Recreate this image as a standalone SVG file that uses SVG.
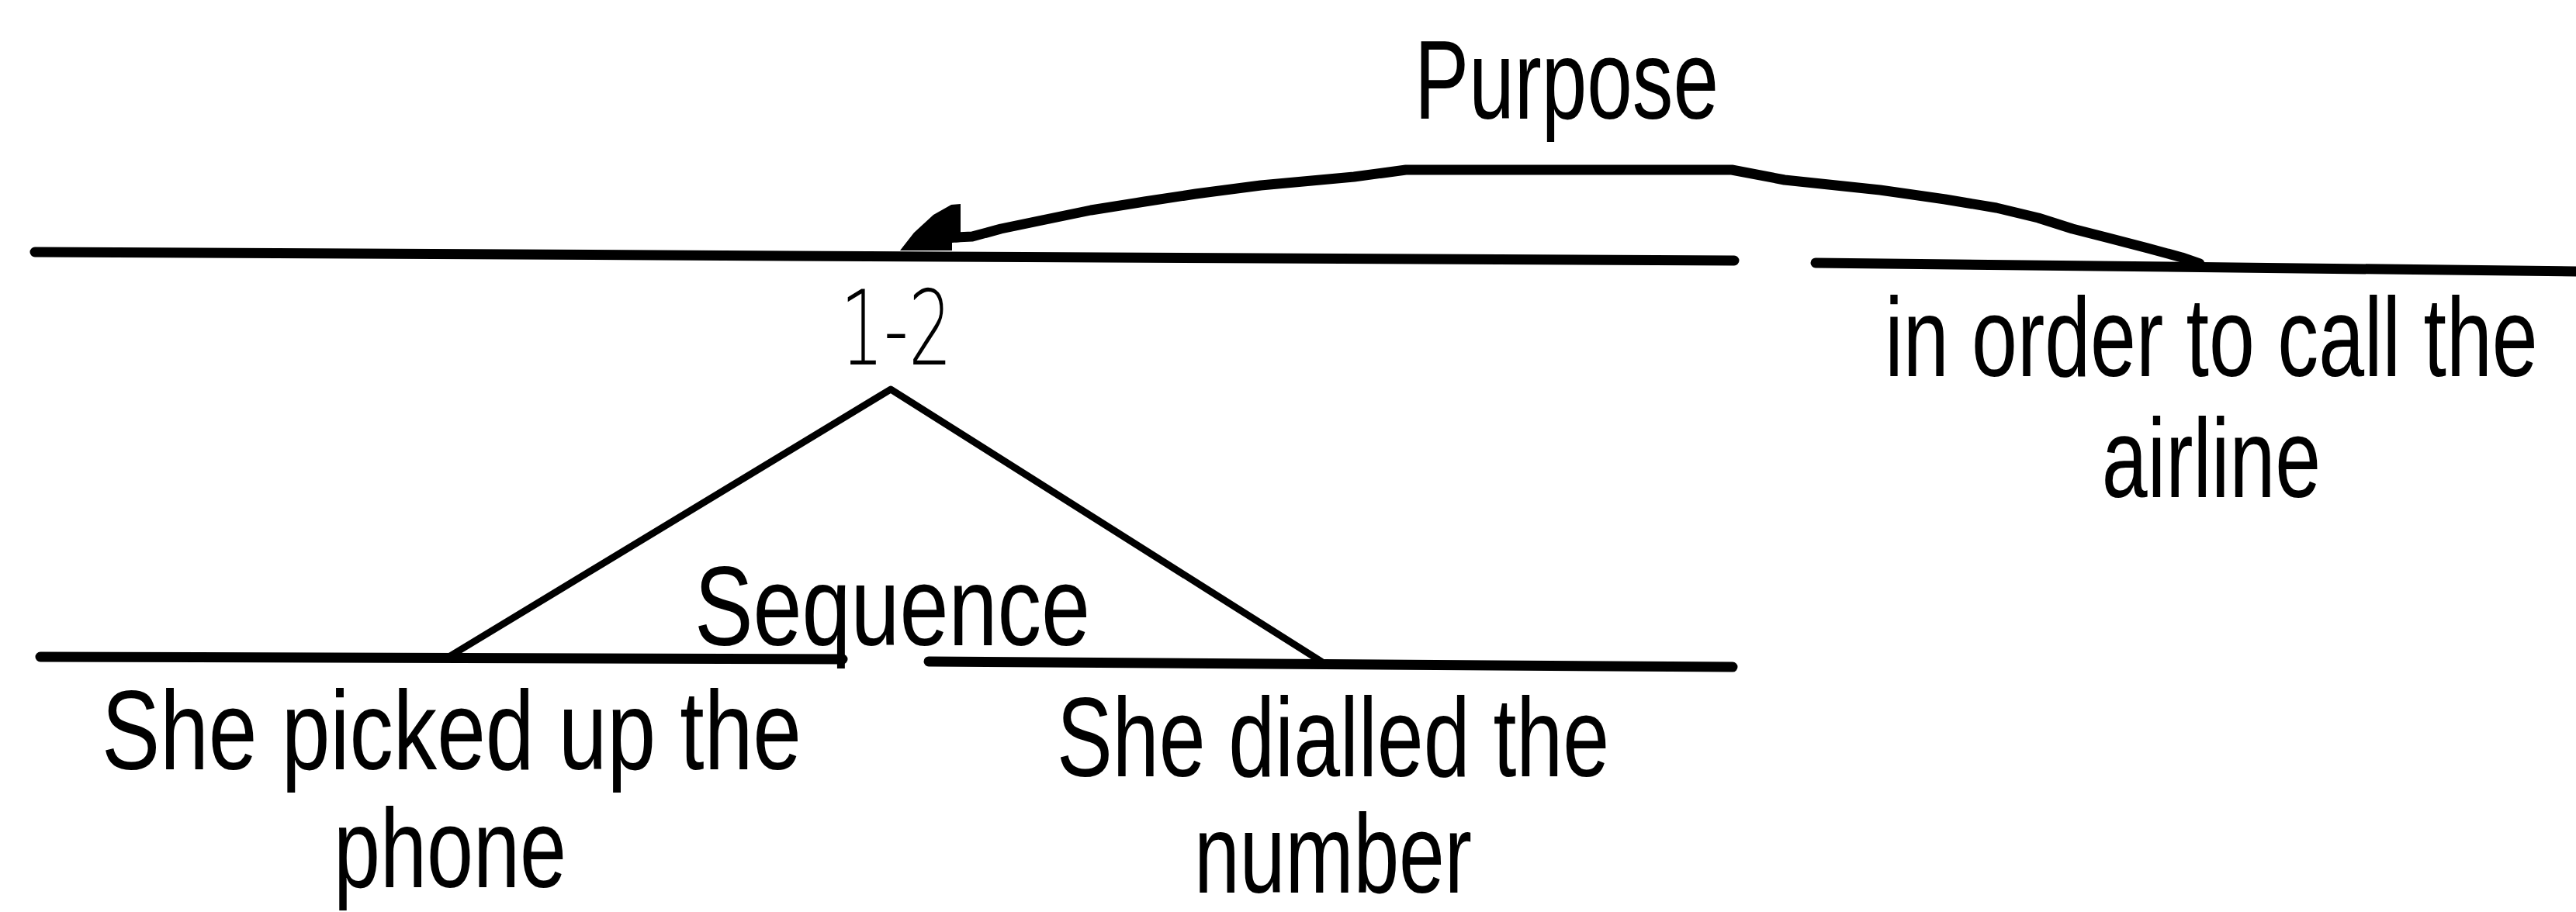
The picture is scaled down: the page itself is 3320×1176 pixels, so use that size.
<svg xmlns="http://www.w3.org/2000/svg" width="3320" height="1176" viewBox="0 0 3320 1176">
<style>
.ln{stroke:#000;stroke-width:13;stroke-linecap:round;fill:none}
.br{stroke:#000;stroke-width:9;stroke-linecap:round;stroke-linejoin:round;fill:none}
.tx{font-family:"Liberation Sans",Arial,sans-serif;font-size:145px;fill:#000;text-anchor:middle}
.thin{font-family:"DejaVu Sans","Liberation Sans",sans-serif;font-weight:200;font-size:134px;fill:#000;text-anchor:middle}
</style>
<rect width="3320" height="1176" fill="#fff"/>
<g id="connectors">
  <polyline class="ln" stroke-linejoin="round" points="1232,306 1253,305 1290,295 1343,284 1406,271 1475,260 1541,250 1625,239 1745,228 1812,219 2232,219 2300,232 2423,245 2507,257 2573,268 2627,281 2671,295 2718,307 2768,320 2812,332 2835,340"/>
  <polygon fill="#000" points="1160,323 1178,300 1203,277 1226,264 1238,263 1238,312 1227,313 1227,323"/>
  <text class="tx" x="2019" y="153" textLength="392" lengthAdjust="spacingAndGlyphs">Purpose</text>
  <polyline class="br" points="580,846 1148,502 1703,853"/>
  <text class="tx" x="1150" y="832" font-size="140" textLength="510" lengthAdjust="spacingAndGlyphs">Sequence</text>
</g>
<g id="node-main">
  <line class="ln" x1="45" y1="325" x2="2235" y2="336"/>
  <text class="thin" x="1155" y="470" textLength="144" lengthAdjust="spacingAndGlyphs">1-2</text>
</g>
<g id="node-purpose-clause">
  <line class="ln" x1="2340" y1="339" x2="3330" y2="350"/>
  <g transform="translate(2850,485) scale(0.73,1)">
    <text class="tx" x="0" y="0">in order to call the</text>
  </g>
  <g transform="translate(2850,641) scale(0.73,1)">
    <text class="tx" x="0" y="0">airline</text>
  </g>
</g>
<g id="node-left">
  <line class="ln" x1="52" y1="847" x2="1086" y2="850"/>
  <text class="tx" x="582" y="992" textLength="902" lengthAdjust="spacingAndGlyphs">She picked up the</text>
  <text class="tx" x="580" y="1144" textLength="300" lengthAdjust="spacingAndGlyphs">phone</text>
</g>
<g id="node-right">
  <line class="ln" x1="1197" y1="853" x2="2233" y2="860"/>
  <text class="tx" x="1718" y="1001" textLength="712" lengthAdjust="spacingAndGlyphs">She dialled the</text>
  <text class="tx" x="1718" y="1151" textLength="358" lengthAdjust="spacingAndGlyphs">number</text>
</g>
</svg>
